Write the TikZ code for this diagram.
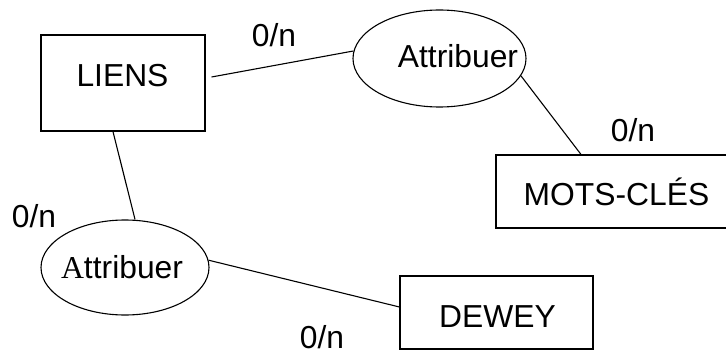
\documentclass[tikz,border=0pt]{standalone}
\usepackage{fontspec}
\setmainfont{Liberation Sans}
\newfontfamily\serifA{Liberation Serif}
\usetikzlibrary{shapes.geometric}
\begin{document}
\begin{tikzpicture}[x=1pt,y=1pt,line width=1.1pt,
  ent/.style={draw,rectangle,inner sep=0pt},
  rel/.style={draw,ellipse,inner sep=0pt},
  txt/.style={anchor=base,inner sep=0pt,font=\fontsize{31.8}{38}\selectfont}]
\useasboundingbox (0,0) rectangle (726,354);
% entities
\node[ent,minimum width=164,minimum height=96] (liens) at (123,271) {};
\node[ent,minimum width=232,minimum height=73] (mots) at (612,162.5) {};
\node[ent,minimum width=193,minimum height=73] (dewey) at (496.5,41.5) {};
% relations
\node[rel,minimum width=173,minimum height=97] (att1) at (439.5,295.5) {};
\node[rel,minimum width=168,minimum height=95] (att2) at (125,86.5) {};
% texts
\node[txt] (tliens) at (122.5,267) {LIENS};
\node[txt] (tmots) at (616.5,149) {MOTS-CLÉS};
\node[txt] (tdewey) at (497.5,27) {DEWEY};
\node[txt] (tatt1) at (458,286) {Attribuer};
\node[txt] (tatt2) at (122,76) {{\serifA A}ttribuer};
\node[txt] (c1) at (274,307) {0/n};
\node[txt] (c2) at (633,212) {0/n};
\node[txt] (c3) at (34,127) {0/n};
\node[txt] (c4) at (322,6) {0/n};
% connectors
\draw ([shift={(6,6)}]liens.east) -- (att1.175);
\draw (att1.348.6) -- ([xshift=-31]mots.north);
\draw ([xshift=-10]liens.south) -- ([xshift=10]att2.north);
\draw (att2.5) -- ([yshift=5.5]dewey.west);
\end{tikzpicture}
\end{document}
